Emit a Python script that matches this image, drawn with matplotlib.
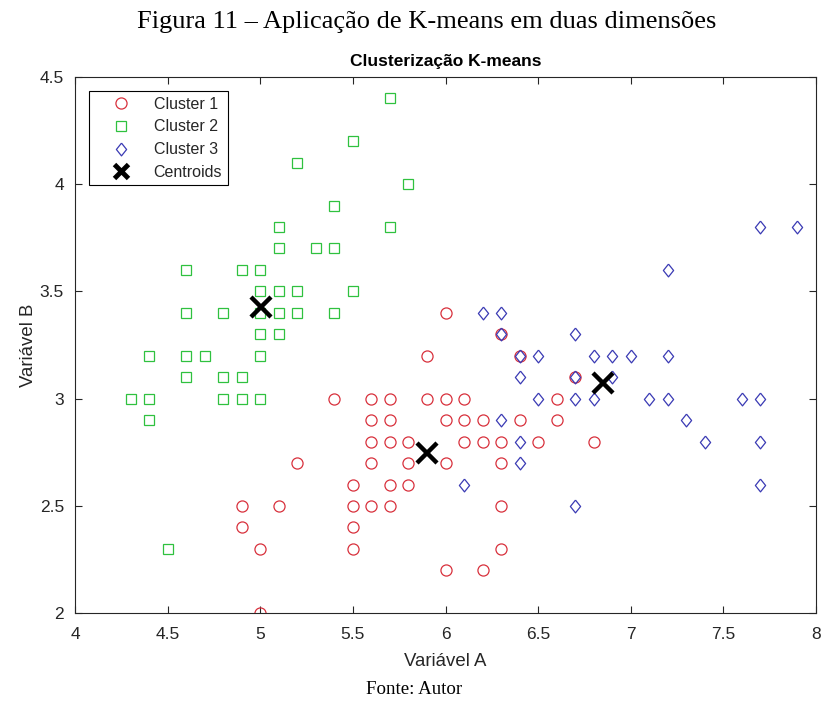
import matplotlib
matplotlib.use("Agg")
import matplotlib.pyplot as plt
from matplotlib.ticker import FuncFormatter, MultipleLocator

# Cluster 1 (red circles): (Variável A, Variável B)
c1_a = [5.0, 5.0, 4.9, 4.9, 5.1, 5.2, 5.4,
        5.5, 5.5, 5.5, 5.5,
        5.6, 5.6, 5.6, 5.6, 5.6,
        5.7, 5.7, 5.7, 5.7, 5.7,
        5.8, 5.8, 5.8,
        5.9, 5.9,
        6.0, 6.0, 6.0, 6.0, 6.0,
        6.1, 6.1, 6.1,
        6.2, 6.2, 6.2,
        6.3, 6.3, 6.3, 6.3, 6.3,
        6.4, 6.4, 6.5, 6.6, 6.6, 6.7, 6.8]
c1_b = [2.0, 2.3, 2.4, 2.5, 2.5, 2.7, 3.0,
        2.3, 2.4, 2.5, 2.6,
        2.5, 2.7, 2.8, 2.9, 3.0,
        2.5, 2.6, 2.8, 2.9, 3.0,
        2.6, 2.7, 2.8,
        3.0, 3.2,
        2.2, 2.7, 2.9, 3.0, 3.4,
        2.8, 2.9, 3.0,
        2.2, 2.8, 2.9,
        2.3, 2.5, 2.7, 2.8, 3.3,
        2.9, 3.2, 2.8, 2.9, 3.0, 3.1, 2.8]

# Cluster 2 (green squares)
c2_a = [4.3, 4.4, 4.4, 4.4, 4.5, 4.6, 4.6, 4.6, 4.6, 4.7,
        4.8, 4.8, 4.8, 4.9, 4.9, 4.9,
        5.0, 5.0, 5.0, 5.0, 5.0, 5.0,
        5.1, 5.1, 5.1, 5.1, 5.1,
        5.2, 5.2, 5.2, 5.3, 5.4, 5.4, 5.4,
        5.5, 5.5, 5.7, 5.7, 5.8]
c2_b = [3.0, 2.9, 3.0, 3.2, 2.3, 3.1, 3.2, 3.4, 3.6, 3.2,
        3.0, 3.1, 3.4, 3.0, 3.1, 3.6,
        3.0, 3.2, 3.3, 3.4, 3.5, 3.6,
        3.3, 3.4, 3.5, 3.7, 3.8,
        3.4, 3.5, 4.1, 3.7, 3.4, 3.7, 3.9,
        3.5, 4.2, 3.8, 4.4, 4.0]

# Cluster 3 (blue diamonds)
c3_a = [6.1, 6.2, 6.3, 6.3, 6.3, 6.4, 6.4, 6.4, 6.4,
        6.5, 6.5, 6.7, 6.7, 6.7, 6.7,
        6.8, 6.8, 6.9, 6.9, 7.0, 7.1,
        7.2, 7.2, 7.2, 7.3, 7.4, 7.6,
        7.7, 7.7, 7.7, 7.7, 7.9]
c3_b = [2.6, 3.4, 2.9, 3.3, 3.4, 2.7, 2.8, 3.1, 3.2,
        3.0, 3.2, 2.5, 3.0, 3.1, 3.3,
        3.0, 3.2, 3.1, 3.2, 3.2, 3.0,
        3.0, 3.2, 3.6, 2.9, 2.8, 3.0,
        2.6, 2.8, 3.0, 3.8, 3.8]

# Centroids
cent_a = [5.90, 5.006, 6.85]
cent_b = [2.748, 3.428, 3.074]

legend_labels = ["Cluster 1", "Cluster 2", "Cluster 3", "Centroids"]
title_text = "Clusterização K-means"
xlabel_text = "Variável A"
ylabel_text = "Variável B"
caption_text = "Figura 11 \u2013 Aplicação de K-means em duas dimensões"
source_text = "Fonte: Autor"

sans = ["Liberation Sans", "DejaVu Sans"]
serif = ["Liberation Serif", "DejaVu Serif"]
axis_gray = "#262626"

fig = plt.figure(figsize=(8.28, 7.04), dpi=100)
fig.patch.set_facecolor("white")
ax = fig.add_axes([0.0906, 0.1288, 0.8949, 0.7622])

diamond = [(0, 1), (0.8, 0), (0, -1), (-0.8, 0), (0, 1)]

ax.plot(c1_a, c1_b, linestyle="none", marker="o", markersize=8,
        markerfacecolor="none", markeredgecolor="#d8303c",
        markeredgewidth=0.9, label=legend_labels[0])
ax.plot(c2_a, c2_b, linestyle="none", marker="s", markersize=6.6,
        markerfacecolor="none", markeredgecolor="#2fc13f",
        markeredgewidth=0.9, label=legend_labels[1])
ax.plot(c3_a, c3_b, linestyle="none", marker=diamond, markersize=9.2,
        markerfacecolor="none", markeredgecolor="#3a3ab4",
        markeredgewidth=0.9, label=legend_labels[2])
ax.plot(cent_a, cent_b, linestyle="none", marker="x", markersize=15,
        markeredgecolor="black", markeredgewidth=3.2,
        label=legend_labels[3])

ax.set_xlim(4, 8)
ax.set_ylim(2, 4.5)
ax.xaxis.set_major_locator(MultipleLocator(0.5))
ax.yaxis.set_major_locator(MultipleLocator(0.5))
fmt = FuncFormatter(lambda v, p: f"{v:g}")
ax.xaxis.set_major_formatter(fmt)
ax.yaxis.set_major_formatter(fmt)

ax.tick_params(direction="in", length=5, width=0.8, color=axis_gray,
               top=True, right=True, labelsize=12.5, labelcolor=axis_gray)
ax.tick_params(axis="x", pad=10)
ax.tick_params(axis="y", pad=8)
for lab in ax.get_xticklabels() + ax.get_yticklabels():
    lab.set_family(sans)
for sp in ax.spines.values():
    sp.set_color(axis_gray)
    sp.set_linewidth(0.8)

ax.set_title(title_text, fontsize=12.5, fontweight="bold", family=sans,
             color="black", pad=8)
ax.set_xlabel(xlabel_text, fontsize=13.4, family=sans, color=axis_gray,
              labelpad=8)
ax.set_ylabel(ylabel_text, fontsize=13.4, family=sans, color=axis_gray,
              labelpad=2)

leg = ax.legend(loc="upper left", bbox_to_anchor=(0.0189, 0.973),
                borderaxespad=0, frameon=True, fancybox=False,
                edgecolor="black", framealpha=1, borderpad=0.35,
                handlelength=3.3, handletextpad=0.4, labelspacing=0.48,
                prop={"family": sans, "size": 11.5})
leg.get_frame().set_linewidth(0.8)
for t in leg.get_texts():
    t.set_color(axis_gray)
leg.legend_handles[3].set_markersize(10.5)
leg.legend_handles[3].set_markeredgewidth(3.5)

fig.text(427 / 828, 1 - 22 / 704, caption_text, ha="center", va="center",
         fontsize=19, family=serif, color="black")
fig.text(0.5, 1 - 690 / 704, source_text, ha="center", va="center",
         fontsize=13.6, family=serif, color="black")

fig.savefig("out.png", dpi=100, facecolor="white")
